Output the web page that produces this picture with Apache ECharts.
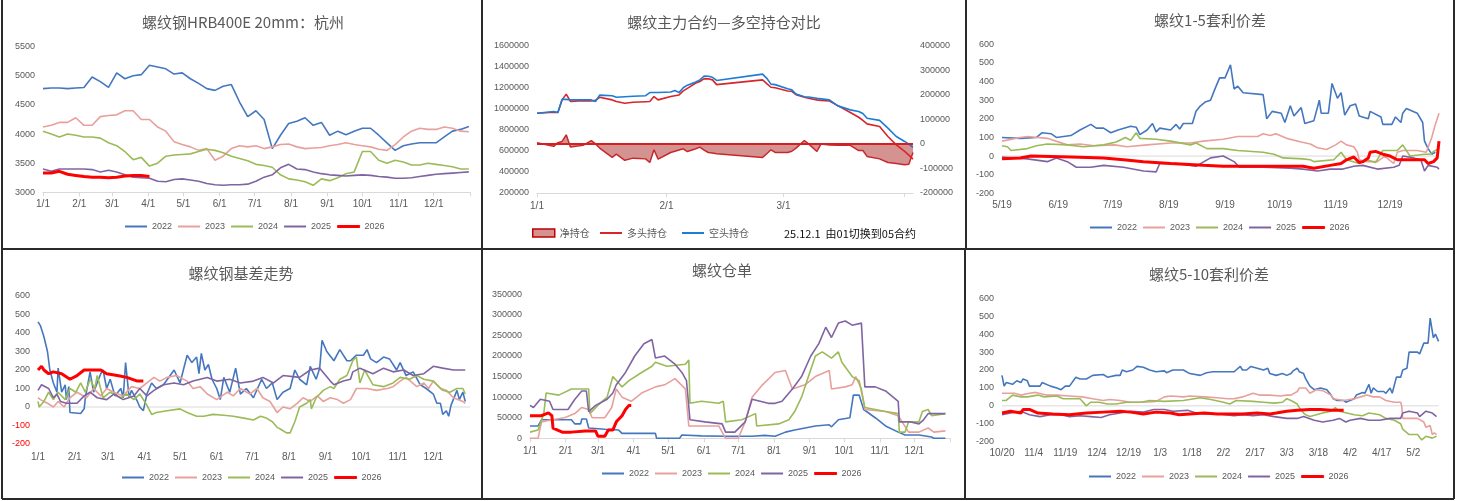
<!DOCTYPE html>
<html><head><meta charset="utf-8">
<script src="https://cdn.jsdelivr.net/npm/echarts@6/dist/echarts.min.js"></script>
<style>html,body{margin:0;padding:0;background:#fff}#c{width:1463px;height:501px}</style>
</head><body><div id="c"></div>
<script>
// ---------- DATA ----------
const years = ['2022','2023','2024','2025','2026'];
const monthLabels = ['1/1','2/1','3/1','4/1','5/1','6/1','7/1','8/1','9/1','10/1','11/1','12/1'];
const monthDays = [0,31,59,90,120,151,181,212,243,273,304,334];

// Panel 1: 螺纹钢HRB400E 20mm 杭州 (weekly samples, day of year)
const p1Days = [0,7,14,21,28,35,42,49,56,63,70,77,84,91,98,105,112,119,126,133,140,147,154,161,168,175,182,189,196,203,210,217,224,231,238,245,252,259,266,273,280,287,294,301,308,315,322,329,336,343,350,357,364];
const p1_2022 = [4780,4790,4790,4780,4790,4800,4980,4900,4800,5050,4950,5000,5020,5180,5150,5120,5030,5050,4950,4870,4780,4750,4820,4850,4550,4300,4400,4250,3750,3980,4180,4220,4280,4150,4200,3980,4050,3990,4050,4100,4100,3980,3850,3720,3800,3830,3850,3850,3850,3950,4050,4080,4130];
const p1_2023 = [4120,4150,4200,4200,4280,4150,4150,4300,4320,4330,4400,4400,4250,4250,4120,4050,3870,3820,3780,3720,3750,3550,3620,3750,3800,3780,3800,3750,3780,3820,3830,3780,3750,3760,3770,3800,3820,3850,3820,3800,3780,3740,3720,3820,3950,4050,4100,4080,4080,4120,4100,4050,4040];
const p1_2024 = [4050,4000,3950,4000,3980,3950,3950,3930,3850,3800,3700,3560,3600,3450,3500,3620,3640,3650,3660,3700,3740,3720,3680,3620,3580,3540,3480,3460,3430,3300,3230,3210,3180,3120,3230,3200,3250,3320,3350,3700,3700,3550,3500,3550,3520,3470,3470,3500,3480,3460,3440,3400,3400];
const p1_2025 = [3400,3360,3400,3400,3400,3400,3390,3350,3380,3350,3300,3260,3250,3240,3190,3180,3220,3230,3210,3190,3150,3130,3120,3130,3130,3140,3190,3260,3300,3420,3480,3400,3390,3350,3320,3300,3290,3280,3290,3300,3290,3270,3260,3240,3240,3250,3270,3290,3310,3320,3330,3340,3350];
const p1_2026 = [3330,3330,3360,3310,3290,3270,3260,3260,3250,3260,3280,3290,3290,3270];

// Panel 2: 螺纹主力合约—多空持仓对比 (day from 1/1)
const p2TickLabels = ['1/1','2/1','3/1'];
const p2TickDays = [0,31,59];
const p2Days  = [0,4,5,6,7,8,11,13,14,15,18,19,21,23,26,27,28,29,32,33,34,35,36,38,39,40,41,42,43,54,55,56,57,60,61,62,64,65,67,68,70,72,75,77,78,79,82,84,86,88,89,90];
const p2Short = [958000,975000,965000,1090000,1090000,1085000,1085000,1085000,1070000,1130000,1125000,1110000,1115000,1120000,1125000,1155000,1155000,1155000,1160000,1175000,1155000,1200000,1225000,1255000,1275000,1312000,1310000,1300000,1270000,1330000,1290000,1235000,1230000,1190000,1180000,1140000,1115000,1112000,1100000,1095000,1085000,1028000,990000,975000,955000,911000,890000,816000,737000,690000,665000,633000];
const p2Long  = [958000,968000,965000,1085000,1140000,1070000,1078000,1075000,1080000,1110000,1085000,1070000,1053000,1062000,1068000,1070000,1117000,1085000,1117000,1125000,1132000,1170000,1195000,1245000,1260000,1287000,1285000,1275000,1230000,1275000,1240000,1205000,1200000,1170000,1167000,1135000,1110000,1100000,1085000,1080000,1075000,1030000,965000,920000,890000,857000,832000,737000,658000,595000,560000,522000];
const p2Net   = [5000,-10000,5000,10000,37000,-13000,-6000,13000,0,-17000,-55000,-42000,-67000,-58000,-61000,-76000,-24000,-62000,-35000,-30000,-25000,-20000,-31000,-20000,-13000,-25000,-35000,-37000,-40000,-55000,-40000,-24000,-35000,-35000,-30000,-17000,14000,0,-31000,0,-4000,-5000,-6000,-27000,-27000,-51000,-61000,-76000,-80000,-85000,-83000,-35000];

// Panel 3: 螺纹1-5套利价差 (day from 5/19)
const p3TickLabels = ['5/19','6/19','7/19','8/19','9/19','10/19','11/19','12/19'];
const p3TickDays = [0,31,61,92,123,153,184,214];
const p3_2022 = [[0,100],[10,95],[19,100],[22,125],[27,120],[30,100],[38,110],[43,140],[49,170],[52,150],[56,150],[60,125],[64,140],[71,160],[74,155],[76,115],[80,140],[83,175],[85,130],[87,150],[93,140],[96,170],[98,145],[100,175],[105,175],[107,240],[109,265],[112,290],[115,300],[117,350],[120,420],[123,420],[126,490],[128,360],[130,375],[133,340],[144,330],[146,200],[149,240],[154,230],[156,180],[159,270],[161,215],[165,260],[167,175],[172,190],[175,300],[176,230],[180,230],[182,390],[185,310],[187,340],[189,220],[192,270],[195,280],[197,215],[202,200],[203,240],[209,210],[210,170],[215,170],[217,210],[220,180],[221,230],[223,255],[229,230],[232,180],[233,80],[235,40],[237,10],[239,20]];
const p3_2023 = [[0,80],[10,100],[14,105],[25,95],[36,60],[43,65],[51,55],[62,60],[69,50],[80,60],[93,70],[104,70],[111,80],[122,90],[130,105],[141,105],[144,120],[148,110],[151,120],[157,95],[165,75],[170,65],[174,45],[179,35],[184,60],[187,80],[190,60],[194,50],[196,20],[197,-20],[201,-30],[207,-30],[211,0],[216,-40],[218,20],[221,30],[229,30],[234,20],[237,100],[239,170],[240,180],[241,230]];
const p3_2024 = [[0,55],[3,50],[5,30],[14,40],[19,55],[25,65],[36,60],[45,50],[56,60],[63,75],[68,100],[71,85],[74,125],[76,95],[85,90],[93,80],[104,60],[107,70],[113,40],[122,40],[130,30],[144,20],[150,10],[155,-10],[166,-15],[170,-20],[172,-30],[183,-20],[185,0],[187,20],[190,-20],[197,-40],[201,-20],[206,-35],[210,30],[218,30],[221,60],[225,0],[233,10],[236,10],[239,30],[241,40]];
const p3_2025 = [[0,-5],[14,-15],[25,-30],[30,-10],[36,-30],[41,-60],[49,-60],[56,-50],[67,-60],[78,-80],[85,-85],[87,-40],[96,-40],[107,-55],[115,-10],[122,0],[128,-30],[131,-60],[144,-60],[159,-65],[166,-70],[174,-80],[181,-70],[188,-70],[194,-55],[199,-50],[207,-70],[216,-60],[219,-50],[221,0],[227,-10],[231,-20],[233,-80],[235,-50],[240,-60],[241,-70]];
const p3_2026 = [[0,-15],[10,-10],[16,0],[38,-5],[56,-10],[67,-20],[78,-30],[93,-40],[111,-50],[122,-55],[148,-55],[166,-55],[172,-65],[181,-50],[187,-40],[190,-20],[194,-5],[197,-35],[199,-30],[202,-10],[203,20],[206,25],[210,10],[214,0],[218,-20],[229,-20],[233,-20],[235,-40],[238,-30],[240,-10],[241,80]];

// Panel 4: 螺纹钢基差走势 (day of year)
const p4_2022 = [[0,460],[2,440],[5,380],[8,300],[9,310],[10,200],[13,130],[16,80],[17,210],[20,80],[23,120],[24,40],[26,110],[27,-30],[36,-35],[39,-10],[40,50],[44,190],[47,80],[53,180],[55,200],[58,100],[61,150],[65,60],[70,100],[72,50],[74,240],[77,50],[79,90],[84,30],[86,0],[89,-20],[92,70],[96,130],[100,100],[106,120],[115,200],[120,130],[126,280],[130,240],[134,270],[136,180],[138,290],[141,200],[144,230],[147,150],[151,100],[154,40],[157,160],[162,80],[167,210],[171,70],[176,100],[182,50],[189,150],[193,100],[198,130],[202,40],[207,80],[213,100],[217,200],[221,150],[227,120],[230,220],[235,150],[238,210],[240,360],[244,300],[250,250],[255,310],[261,250],[264,250],[269,280],[275,280],[278,310],[281,260],[286,240],[292,270],[297,260],[303,200],[306,240],[311,170],[317,190],[323,120],[328,100],[334,70],[337,20],[340,20],[342,-40],[345,-20],[347,-50],[349,10],[354,90],[356,40],[359,80],[361,30]];
const p4_2023 = [[0,50],[2,40],[8,20],[13,0],[17,30],[22,0],[24,20],[27,50],[33,80],[41,50],[47,100],[53,60],[58,100],[64,80],[72,60],[79,110],[86,100],[92,130],[98,160],[103,140],[109,160],[117,170],[126,140],[131,100],[137,110],[143,70],[151,40],[160,80],[165,60],[171,100],[179,70],[185,100],[190,50],[196,30],[202,-30],[207,0],[213,-10],[219,20],[224,50],[230,30],[236,60],[241,30],[247,50],[253,40],[258,20],[264,40],[269,100],[278,100],[286,90],[295,100],[300,110],[306,140],[311,160],[320,110],[326,130],[330,100],[334,140],[340,100],[345,90],[351,50],[359,30],[361,20]];
const p4_2024 = [[0,30],[1,0],[5,30],[9,80],[13,40],[17,80],[23,40],[27,100],[32,80],[36,130],[40,80],[44,150],[48,100],[50,170],[55,50],[61,80],[70,50],[75,70],[81,40],[86,70],[92,10],[96,-40],[100,-30],[109,-20],[120,-10],[126,-30],[134,-50],[140,-50],[148,-40],[157,-45],[165,-50],[174,-60],[182,-70],[188,-50],[193,-60],[198,-80],[202,-110],[205,-120],[210,-140],[213,-140],[217,-80],[219,-40],[221,0],[227,20],[230,40],[231,-10],[235,50],[241,90],[247,110],[250,100],[255,150],[261,170],[266,250],[269,270],[272,130],[276,200],[283,120],[292,110],[300,130],[306,160],[314,150],[320,170],[326,150],[334,140],[342,90],[348,80],[354,100],[359,100],[361,70]];
const p4_2025 = [[0,90],[3,120],[9,100],[13,50],[16,70],[19,30],[24,20],[33,20],[39,60],[44,80],[50,50],[58,40],[64,70],[72,40],[81,60],[86,100],[92,60],[98,90],[106,120],[115,130],[123,120],[131,140],[143,160],[151,140],[162,150],[171,130],[182,140],[190,160],[199,130],[207,170],[221,160],[230,200],[238,210],[247,140],[250,120],[258,140],[264,150],[266,190],[272,210],[283,180],[292,210],[300,190],[309,200],[317,170],[326,180],[334,220],[342,210],[351,200],[361,200]];
const p4_2026 = [[0,200],[3,220],[5,200],[9,180],[13,190],[20,180],[27,150],[33,170],[39,200],[53,200],[58,180],[67,170],[75,160],[84,140],[89,140]];

// Panel 5: 螺纹仓单 (day of year)
const p5_2022 = [[0,30000],[7,30000],[10,45000],[36,45000],[39,35000],[44,35000],[45,47000],[49,47000],[51,25000],[65,22000],[77,20000],[80,12000],[109,12000],[110,0],[130,0],[132,8000],[149,6000],[170,5000],[193,5000],[204,7000],[213,5000],[222,15000],[230,20000],[239,25000],[248,30000],[260,33000],[262,28000],[268,45000],[278,50000],[281,105000],[286,105000],[290,70000],[300,50000],[309,30000],[320,15000],[326,8000],[338,8000],[349,3000],[351,0],[361,0]];
const p5_2023 = [[0,0],[7,0],[10,40000],[19,45000],[30,50000],[39,60000],[45,75000],[51,70000],[54,50000],[65,50000],[71,75000],[75,120000],[80,100000],[88,90000],[97,110000],[109,125000],[117,130000],[126,145000],[135,120000],[138,30000],[164,30000],[170,0],[181,0],[187,40000],[193,100000],[202,130000],[213,160000],[222,165000],[228,120000],[239,130000],[248,150000],[260,165000],[262,120000],[274,125000],[280,130000],[283,150000],[288,120000],[291,70000],[309,65000],[320,55000],[329,15000],[338,15000],[346,25000],[351,15000],[361,18000]];
const p5_2024 = [[0,15000],[7,20000],[12,60000],[14,110000],[25,105000],[36,120000],[51,120000],[52,60000],[59,80000],[67,100000],[72,150000],[80,125000],[86,140000],[97,160000],[106,175000],[109,185000],[119,175000],[135,180000],[138,190000],[139,85000],[149,90000],[164,85000],[168,90000],[170,40000],[184,45000],[196,60000],[197,30000],[216,35000],[225,45000],[230,65000],[236,100000],[242,150000],[248,200000],[254,210000],[262,195000],[268,210000],[271,185000],[280,150000],[286,140000],[291,75000],[309,65000],[320,60000],[321,15000],[326,15000],[329,40000],[338,40000],[341,65000],[346,70000],[349,55000],[361,60000]];
const p5_2025 = [[0,80000],[3,75000],[9,95000],[17,90000],[20,70000],[33,70000],[39,95000],[45,115000],[49,115000],[51,65000],[57,80000],[67,95000],[72,110000],[75,130000],[83,160000],[91,200000],[99,230000],[106,240000],[109,195000],[117,200000],[126,180000],[132,160000],[136,140000],[139,45000],[152,40000],[167,35000],[170,15000],[178,15000],[187,40000],[193,95000],[207,85000],[213,85000],[219,90000],[228,120000],[236,150000],[244,200000],[251,230000],[257,270000],[262,245000],[268,280000],[274,285000],[280,275000],[288,280000],[291,125000],[300,125000],[309,115000],[320,90000],[321,40000],[330,40000],[338,35000],[342,45000],[346,60000],[361,60000]];
const p5_2026 = [[0,55000],[10,55000],[16,62000],[19,55000],[20,25000],[28,15000],[36,15000],[48,18000],[57,18000],[59,5000],[65,5000],[68,20000],[72,20000],[75,40000],[80,55000],[83,70000],[86,80000],[88,80000]];

// Panel 6: 螺纹5-10套利价差 (day from 10/20)
const p6TickLabels = ['10/20','11/4','11/19','12/4','12/19','1/3','1/18','2/2','2/17','3/3','3/18','4/2','4/17','5/2'];
const p6TickDays = [0,15,30,45,60,75,90,105,120,135,150,165,180,195];
const p6_2022 = [[0,170],[1,110],[2,130],[5,120],[7,140],[9,130],[10,150],[12,140],[13,110],[18,110],[19,130],[23,110],[26,100],[28,90],[30,110],[32,110],[35,160],[37,150],[40,150],[43,170],[48,175],[50,160],[54,170],[56,170],[57,200],[59,190],[62,200],[64,220],[67,215],[70,200],[73,190],[77,195],[78,185],[81,200],[86,200],[89,180],[94,170],[97,185],[100,190],[110,190],[111,200],[113,220],[114,200],[116,200],[118,220],[121,210],[124,200],[126,210],[127,180],[130,170],[133,180],[135,170],[137,180],[138,195],[140,210],[141,190],[143,180],[144,150],[146,110],[148,90],[151,100],[154,90],[156,60],[157,40],[159,30],[162,30],[163,20],[165,30],[167,40],[168,60],[171,75],[172,70],[174,120],[175,70],[176,100],[178,80],[181,80],[182,70],[184,100],[185,70],[187,160],[189,160],[190,200],[192,210],[193,300],[197,300],[198,290],[200,350],[202,350],[203,490],[204.5,380],[205.5,400],[207,360]];
const p6_2023 = [[0,70],[6,70],[9,60],[13,70],[16,75],[21,60],[26,60],[32,55],[38,50],[43,40],[48,30],[51,35],[56,30],[61,20],[67,20],[73,25],[77,50],[80,55],[86,50],[89,55],[96,50],[102,45],[107,40],[110,40],[114,50],[119,70],[122,60],[127,60],[132,55],[135,60],[137,60],[140,80],[141,100],[144,100],[146,70],[149,90],[152,85],[156,60],[157,40],[162,30],[167,40],[170,50],[173,60],[176,50],[179,50],[182,30],[186,20],[189,20],[189.5,0],[190,-70],[197,-70],[200,-90],[201,-120],[203,-110],[204,-160],[205,-150],[206,-160]];
const p6_2024 = [[0,30],[2,30],[5,60],[9,50],[12,50],[17,60],[20,50],[26,55],[29,40],[37,40],[40,0],[42,20],[46,20],[50,10],[54,10],[59,20],[66,20],[70,30],[77,25],[86,30],[94,45],[99,35],[105,20],[108,10],[111,30],[119,25],[124,20],[129,15],[133,20],[135,40],[137,30],[140,10],[141,-10],[143,-40],[144,-50],[146,-60],[149,-50],[152,-40],[156,-30],[158,-10],[160,-30],[167,-50],[171,-55],[174,-40],[179,-50],[182,-70],[186,-80],[189,-100],[190,-130],[193,-160],[197,-160],[199,-190],[201,-170],[204,-180],[206,-170]];
const p6_2025 = [[0,-50],[4,-40],[9,-30],[13,-50],[18,-60],[23,-50],[28,-50],[32,-60],[37,-55],[42,-60],[47,-65],[51,-50],[56,-40],[61,-30],[67,-35],[72,-20],[77,-20],[81,-30],[88,-25],[92,-40],[97,-45],[103,-45],[110,-55],[114,-50],[119,-55],[124,-50],[129,-60],[135,-70],[140,-70],[143,-60],[148,-80],[152,-90],[157,-80],[160,-70],[163,-90],[165,-80],[170,-70],[174,-80],[179,-80],[184,-70],[189,-70],[190,-40],[193,-30],[197,-40],[198,-60],[201,-30],[204,-40],[206,-60]];
const p6_2026 = [[0,-40],[4,-30],[9,-40],[10,-20],[13,-20],[17,-40],[24,-45],[32,-50],[40,-40],[48,-35],[56,-30],[61,-35],[67,-45],[73,-35],[80,-40],[84,-50],[89,-45],[96,-40],[102,-45],[108,-45],[114,-45],[121,-40],[127,-45],[130,-40],[135,-30],[140,-25],[146,-20],[151,-20],[156,-25],[162,-25]];

// ---------- CHART ----------
const GRAY = '#595959', AXC = '#D9D9D9';
const NUMFONT = 'Liberation Sans, Noto Sans CJK SC, sans-serif';
const CJK = 'Noto Sans CJK SC, sans-serif';
const COL = {'2022':'#4577BF','2023':'#E8A09C','2024':'#9BBB59','2025':'#8064A2','2026':'#FF0000'};
const zip = (d, v) => v.map((y, i) => [d[i], y]);

function xAx(gi, max, tickVals, labelVals, labels, margin, showLine) {
  const map = {}; labelVals.forEach((v, i) => map[v] = labels[i]);
  return {type:'value', gridIndex:gi, min:0, max:max, splitLine:{show:false},
    axisLine:{show:showLine, onZero:false, lineStyle:{color:AXC, width:1}},
    axisTick:{show:showLine, customValues:tickVals, length:4, lineStyle:{color:AXC}},
    axisLabel:{customValues:labelVals, formatter:v => (map[v] !== undefined ? map[v] : ''),
      color:GRAY, fontSize:10, fontFamily:NUMFONT, margin:margin}};
}
function yAx(gi, min, max, interval, extra) {
  return Object.assign({type:'value', gridIndex:gi, min, max, interval, splitLine:{show:false},
    axisLine:{show:false}, axisTick:{show:false},
    axisLabel:{color:GRAY, fontSize:9, fontFamily:NUMFONT, margin:8, formatter:v => String(v)}}, extra || {});
}
function ln(name, data, xi, yi, color, width) {
  return {name, type:'line', xAxisIndex:xi, yAxisIndex:yi, data, symbol:'none', showSymbol:false,
    lineStyle:{color, width}, itemStyle:{color, borderWidth:0}, emphasis:{disabled:true}};
}
function zeroLine(xi, yi, max) {
  return {type:'line', xAxisIndex:xi, yAxisIndex:yi, data:[[0,0],[max,0]], symbol:'none', silent:true,
    lineStyle:{color:AXC, width:1}, itemStyle:{color:AXC}, z:1};
}
const W = y => (y === '2026' ? 3 : 1.6);

const grids = [
  {left:43, top:46.7, width:427, height:145.6},
  {left:537, top:45.7, width:376, height:147.3},
  {left:1002, top:44.3, width:437, height:149},
  {left:38, top:296, width:432, height:148},
  {left:530, top:294.3, width:420, height:144},
  {left:1002, top:298.3, width:436.6, height:143.4}
];

const monthTicks = monthDays.concat([365]);
const xAxes = [
  xAx(0, 365, monthTicks, monthDays, monthLabels, 7, true),
  xAx(1, 90, [0,31,59,88], p2TickDays, p2TickLabels, 8, true),
  xAx(2, 241, p3TickDays, p3TickDays, p3TickLabels, 7, false),
  xAx(3, 365, monthTicks, monthDays, monthLabels, 8, false),
  xAx(4, 365, monthTicks, monthDays, monthLabels, 8, true),
  xAx(5, 207, p6TickDays, p6TickDays, p6TickLabels, 7, false)
];
const yAxes = [
  yAx(0, 3000, 5500, 500),
  yAx(1, 200000, 1600000, 200000, {position:'left'}),
  yAx(1, -200000, 400000, 100000, {position:'right', axisLabel:{color:GRAY, fontSize:9, fontFamily:NUMFONT, margin:7, formatter:v => String(v)}}),
  yAx(2, -200, 600, 100),
  yAx(3, -200, 600, 100, {axisLabel:{color:GRAY, fontSize:9, fontFamily:NUMFONT, margin:8,
      formatter:v => (v < 0 ? '{r|' + v + '}' : String(v)), rich:{r:{color:'#FF0000', fontSize:9, fontFamily:NUMFONT}}}}),
  yAx(4, 0, 350000, 50000),
  yAx(5, -200, 600, 100)
];

const series = [];
const p1 = {'2022':p1_2022,'2023':p1_2023,'2024':p1_2024,'2025':p1_2025,'2026':p1_2026};
years.forEach(y => series.push(ln(y, zip(p1Days, p1[y]), 0, 0, COL[y], W(y))));

series.push({name:'净持仓', type:'line', xAxisIndex:1, yAxisIndex:2, data:zip(p2Days, p2Net), symbol:'none',
  lineStyle:{color:'#C8282B', width:1.5}, itemStyle:{color:'#D49391', borderWidth:0}, areaStyle:{color:'#D49391', opacity:1},
  markLine:{silent:true, symbol:'none', label:{show:false}, lineStyle:{color:'#D42020', width:2, type:'solid'}, data:[{yAxis:0}]}});
series.push(ln('多头持仓', zip(p2Days, p2Long), 1, 1, '#D8252A', 1.6));
series.push(ln('空头持仓', zip(p2Days, p2Short), 1, 1, '#1D7CD6', 1.6));

series.push(zeroLine(2, 3, 241));
const p3 = {'2022':p3_2022,'2023':p3_2023,'2024':p3_2024,'2025':p3_2025,'2026':p3_2026};
years.forEach(y => series.push(ln(y, p3[y], 2, 3, COL[y], W(y))));

series.push(zeroLine(3, 4, 365));
const p4 = {'2022':p4_2022,'2023':p4_2023,'2024':p4_2024,'2025':p4_2025,'2026':p4_2026};
years.forEach(y => series.push(ln(y, p4[y], 3, 4, COL[y], W(y))));

const p5 = {'2022':p5_2022,'2023':p5_2023,'2024':p5_2024,'2025':p5_2025,'2026':p5_2026};
years.forEach(y => series.push(ln(y, p5[y], 4, 5, COL[y], W(y))));

series.push(zeroLine(5, 6, 207));
const p6 = {'2022':p6_2022,'2023':p6_2023,'2024':p6_2024,'2025':p6_2025,'2026':p6_2026};
years.forEach(y => series.push(ln(y, p6[y], 5, 6, COL[y], W(y))));

const yearItems = years.map(y => (y === '2026'
  ? {name:y, itemStyle:{borderColor:'#FF0000', borderWidth:1}}
  : {name:y}));
function legendAt(left, cy, data, extra) {
  return Object.assign({left, top:cy - 6, data, icon:'rect', itemWidth:22, itemHeight:2, itemGap:6, padding:0,
    selectedMode:false, itemStyle:{borderWidth:0},
    textStyle:{color:GRAY, fontSize:9, fontFamily:NUMFONT}}, extra || {});
}
const legends = [
  legendAt(125, 228, yearItems),
  legendAt(532, 234, [{name:'净持仓', itemStyle:{color:'#D49391', borderColor:'#C00000', borderWidth:1.5}}],
    {itemHeight:8, textStyle:{color:GRAY, fontSize:10, fontFamily:CJK}}),
  legendAt(600, 234, ['多头持仓', '空头持仓'],
    {itemGap:15, textStyle:{color:GRAY, fontSize:10, fontFamily:CJK}}),
  legendAt(1090, 229, yearItems),
  legendAt(122, 479, yearItems),
  legendAt(602, 475, yearItems),
  legendAt(1089, 478, yearItems)
];

const titles = [
  ['螺纹钢HRB400E 20mm：杭州', 243, 22],
  ['螺纹主力合约—多空持仓对比', 724, 22],
  ['螺纹1-5套利价差', 1210, 20],
  ['螺纹钢基差走势', 241, 273],
  ['螺纹仓单', 722, 270],
  ['螺纹5-10套利价差', 1209, 274]
];
const graphic = titles.map(t => ({type:'text', x:t[1], y:t[2], silent:true,
  style:{text:t[0], align:'center', verticalAlign:'middle', fill:'#595959', font:'15px ' + CJK}}));
graphic.push({type:'text', x:784, y:234, silent:true,
  style:{text:'25.12.1  由01切换到05合约', align:'left', verticalAlign:'middle', fill:'#111', font:'11px ' + CJK}});
const B = '#2a2a2a';
[[2,0,2,499],[482,0,482,249],[482,249,482,499],[966,0,966,249],[965,249,965,499],[1454,0,1454,499],[2,249,1454,249],[2,499,1454,499]]
  .forEach(s => graphic.push({type:'line', silent:true, shape:{x1:s[0], y1:s[1], x2:s[2], y2:s[3]}, style:{stroke:B, lineWidth:2}}));

const chart = echarts.init(document.getElementById('c'), null, {renderer:'canvas'});
chart.setOption({animation:false, backgroundColor:'#fff', grid:grids, xAxis:xAxes, yAxis:yAxes,
  series, legend:legends, graphic});
</script></body></html>
